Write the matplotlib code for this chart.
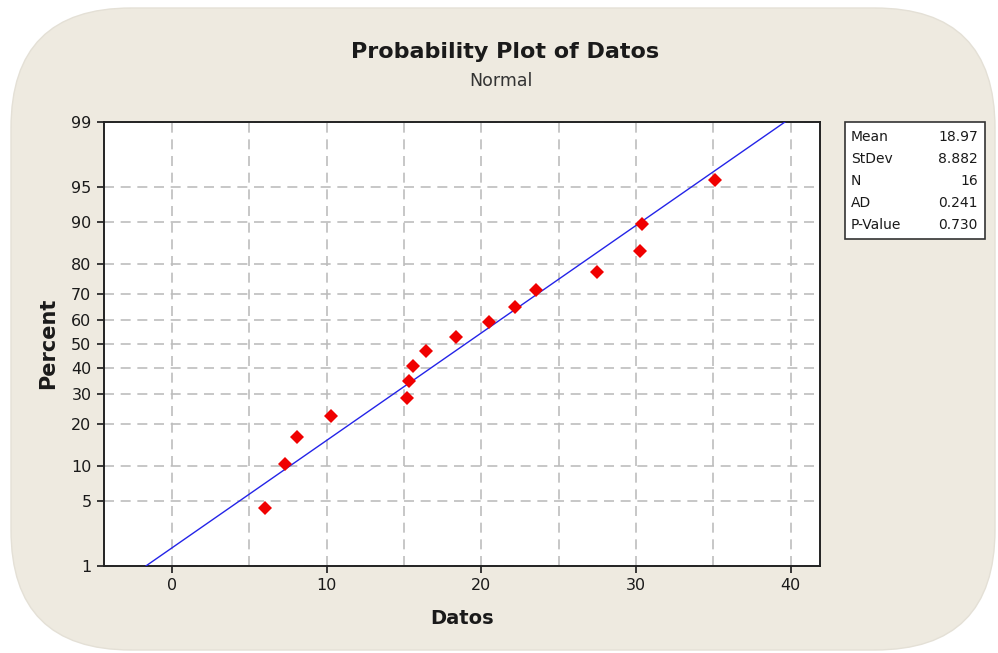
import matplotlib
matplotlib.use("Agg")
import matplotlib.pyplot as plt
from matplotlib.patches import FancyBboxPatch, Rectangle
from statistics import NormalDist
import numpy as np

# data
datos = [6.0, 7.3, 8.05, 10.3, 15.2, 15.35, 15.55, 16.45,
         18.35, 20.5, 22.15, 23.55, 27.45, 30.25, 30.4, 35.1]
percent = [4.3, 10.4, 16.5, 22.6, 28.7, 34.8, 40.9, 47.0,
           53.0, 59.1, 65.2, 71.3, 77.4, 83.5, 89.6, 95.7]
mean = 18.97
stdev = 8.882

y_ticks = [1, 5, 10, 20, 30, 40, 50, 60, 70, 80, 90, 95, 99]
x_major = [0, 10, 20, 30, 40]
x_minor = [5, 15, 25, 35]

stat_names = ["Mean", "StDev", "N", "AD", "P-Value"]
stat_values = ["18.97", "8.882", "16", "0.241", "0.730"]

nd = NormalDist()
def z(p):
    return nd.inv_cdf(p / 100.0)

W, H = 998, 653
fig = plt.figure(figsize=(W / 100, H / 100), dpi=100, facecolor="white")

# rounded beige panel behind everything
bg = fig.add_axes([0, 0, 1, 1], zorder=-1)
bg.set_xlim(0, W)
bg.set_ylim(H, 0)
bg.axis("off")
bg.add_patch(FancyBboxPatch((11, 8), 984, 642,
                            boxstyle="round,pad=0,rounding_size=120",
                            facecolor="#EEEAE0", edgecolor="#E4E0D6", lw=1))

ax = fig.add_axes([104 / W, 1 - 566 / H, (820 - 104) / W, (566 - 122) / H])
ax.set_facecolor("white")

# fitted line from mean / stdev
xl = np.array([mean + z(1) * stdev, mean + z(99) * stdev])
ax.plot(xl, (xl - mean) / stdev, color="#2424E8", lw=1.0, zorder=3)

ax.plot(datos, [z(p) for p in percent], "D", color="#F00000",
        markersize=7.5, markeredgewidth=0, zorder=4)

ax.set_xlim(-4.4, 41.9)
ax.set_ylim(z(1), z(99))
ax.set_xticks(x_major)
ax.set_xticks(x_minor, minor=True)
ax.set_yticks([z(p) for p in y_ticks])
ax.set_yticklabels([str(p) for p in y_ticks])
ax.tick_params(axis="both", which="major", direction="out", length=5,
               width=1.2, labelsize=11.5, colors="#1a1a1a", pad=4)
ax.tick_params(axis="x", which="minor", length=0)
ax.grid(True, which="both", color="#BDBDBD", lw=1.2, ls=(0, (6, 4)))
ax.set_axisbelow(True)
for s in ax.spines.values():
    s.set_linewidth(1.4)
    s.set_color("#222222")

# titles and axis labels
bg.text(505, 52, "Probability Plot of Datos", ha="center", va="center",
        fontsize=16, fontweight="bold", color="#1a1a1a")
bg.text(501, 81, "Normal", ha="center", va="center", fontsize=12.5,
        color="#333333")
bg.text(462, 618, "Datos", ha="center", va="center", fontsize=14,
        fontweight="bold", color="#1a1a1a")
bg.text(48, 343, "Percent", ha="center", va="center", rotation=90,
        fontsize=15, fontweight="bold", color="#1a1a1a")

# stats box
bg.add_patch(Rectangle((845, 122), 140, 117, facecolor="white",
                       edgecolor="#333333", lw=1.2))
for i, (n, v) in enumerate(zip(stat_names, stat_values)):
    yy = 137 + 22 * i
    bg.text(851, yy, n, ha="left", va="center", fontsize=10, color="#1a1a1a")
    bg.text(978, yy, v, ha="right", va="center", fontsize=10, color="#1a1a1a")

fig.savefig("out.png", dpi=100, facecolor="white")
